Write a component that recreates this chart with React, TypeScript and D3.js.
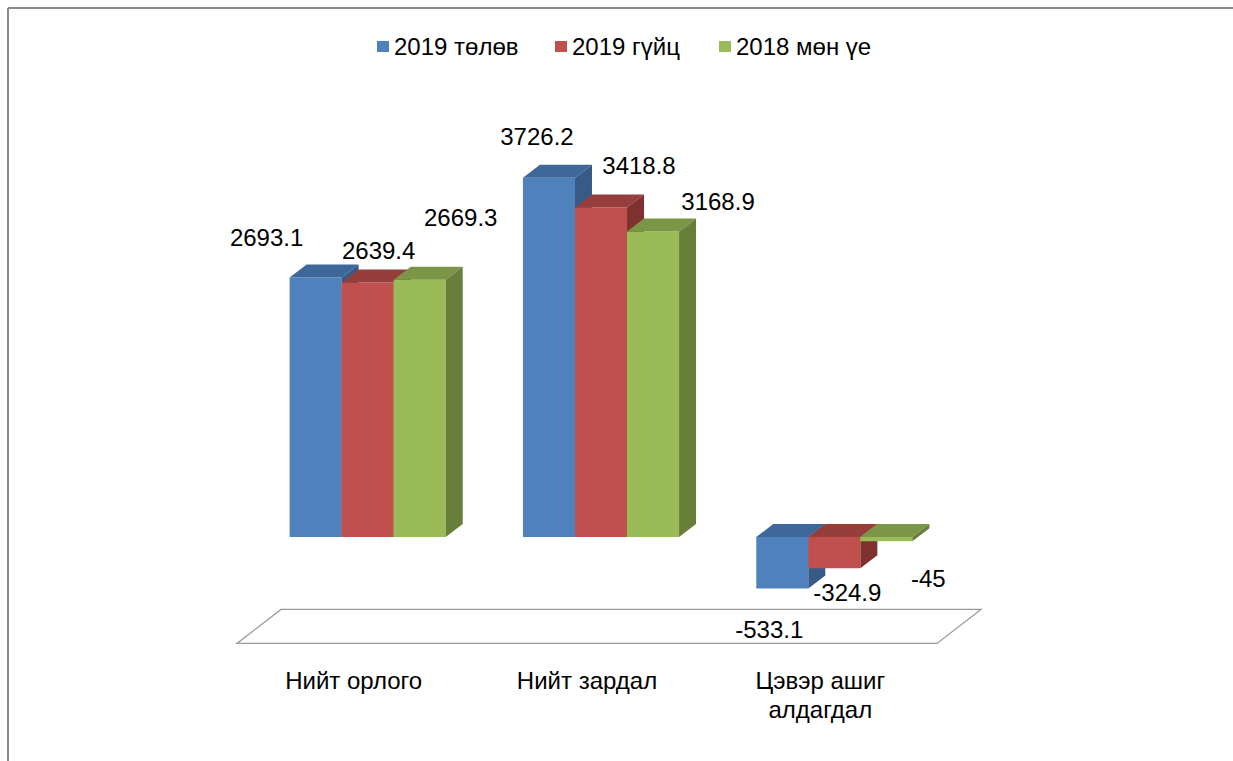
import React from 'react'
import * as d3 from 'd3'

// chart data
const categories = ['Нийт орлого', 'Нийт зардал', 'Цэвэр ашиг алдагдал']
const seriesNames = ['2019 төлөв', '2019 гүйц', '2018 мөн үе']
const plan2019 = [2693.1, 3726.2, -533.1]
const actual2019 = [2639.4, 3418.8, -324.9]
const same2018 = [2669.3, 3168.9, -45]
const seriesValues = [plan2019, actual2019, same2018]

// styling
const frontColors = ['#4F81BD', '#C0504D', '#9BBB59']
const topColors = ['#3D6899', '#953E3B', '#7B9646']
const sideColors = ['#375B86', '#7E312F', '#687F3B']
// hand-moved label nudges (series x category), like the original
const labelNudge = [
  [[-49, -40], [-12, -41], [-13, 41]],
  [[11, -32], [38, -42], [13, 24]],
  [[41, -62], [65, -30], [42, 37]],
]
const legendX = [377, 555, 719]

const W = 1233
const H = 761
const FONT = '"Liberation Sans", Arial, sans-serif'
const DX = 17
const DY = -13

function wrap(text: string, max: number) {
  const lines: string[] = []
  let cur = ''
  text.split(' ').forEach(w => {
    const next = cur ? cur + ' ' + w : w
    if (next.length > max && cur) {
      lines.push(cur)
      cur = w
    } else cur = next
  })
  if (cur) lines.push(cur)
  return lines
}

export default function App() {
  const y = d3.scaleLinear().domain([-1000, 4000]).range([633.4, 151.4])
  const x0 = d3.scaleBand<string>()
    .domain(categories)
    .range([251, 951])
    .paddingInner(0.331)
    .paddingOuter(0.1655)
  const x1 = d3.scaleBand<string>()
    .domain(seriesNames)
    .range([0, x0.bandwidth()])

  const yMin = y(-1000)
  const xL = 251
  const xR = 951
  // floor spans whole depth; bars sit in the middle of it
  const ff = [-14, 10]
  const fb = [30, -24]
  const floor = [
    [xL + ff[0], yMin + ff[1]],
    [xR + ff[0], yMin + ff[1]],
    [xR + fb[0], yMin + fb[1]],
    [xL + fb[0], yMin + fb[1]],
  ]

  const pts = (p: number[][]) => p.map(d => d.join(',')).join(' ')

  const bars: JSX.Element[] = []
  const labels: JSX.Element[] = []
  categories.forEach((c, ci) => {
    seriesNames.forEach((s, si) => {
      const v = seriesValues[si][ci]
      const bx = x0(c)! + x1(s)!
      const bw = x1.bandwidth()
      const y0 = y(0)
      const yv = y(v)
      const yTop = Math.min(y0, yv)
      const yBot = Math.max(y0, yv)
      const front = [[bx, yTop], [bx + bw, yTop], [bx + bw, yBot], [bx, yBot]]
      const top = [[bx, yTop], [bx + bw, yTop], [bx + bw + DX, yTop + DY], [bx + DX, yTop + DY]]
      const side = [[bx + bw, yTop], [bx + bw + DX, yTop + DY], [bx + bw + DX, yBot + DY], [bx + bw, yBot]]
      bars.push(
        <g key={c + s}>
          <polygon points={pts(front)} fill={frontColors[si]} />
          <polygon points={pts(top)} fill={topColors[si]} />
          <polygon points={pts(side)} fill={sideColors[si]} />
        </g>
      )
      const [ndx, ndy] = labelNudge[si][ci]
      labels.push(
        <text key={'l' + c + s} x={bx + bw / 2 + ndx} y={yv + ndy} dy="0.35em"
          textAnchor="middle" fontSize={24} fontFamily={FONT} fill="#000">
          {String(v)}
        </text>
      )
    })
  })

  return (
    <svg width={W} height={H} style={{ position: 'absolute', left: 0, top: 0, background: '#fff' }}>
      <rect x={0} y={0} width={W} height={H} fill="#fff" />
      <line x1={8} y1={8} x2={W} y2={8} stroke="#8a8a8a" strokeWidth={2} />
      <line x1={8} y1={8} x2={8} y2={H} stroke="#8a8a8a" strokeWidth={2} />

      {/* legend */}
      {seriesNames.map((s, i) => (
        <g key={s}>
          <rect x={legendX[i]} y={41} width={12} height={11} fill={frontColors[i]} />
          <text x={legendX[i] + 17} y={55} fontSize={24} fontFamily={FONT} fill="#000">{s}</text>
        </g>
      ))}

      {/* floor */}
      <polygon points={pts(floor)} fill="#fff" stroke="#9a9a9a" strokeWidth={1.3} />

      {bars}
      {labels}

      {/* category labels */}
      {categories.map(c => {
        const cx = x0(c)! + x0.bandwidth() / 2 + ff[0]
        return (
          <text key={c} x={cx} y={689} textAnchor="middle" fontSize={24} fontFamily={FONT} fill="#000">
            {wrap(c, 12).map((ln, i) => (
              <tspan key={i} x={cx} dy={i === 0 ? 0 : 29}>{ln}</tspan>
            ))}
          </text>
        )
      })}
    </svg>
  )
}
